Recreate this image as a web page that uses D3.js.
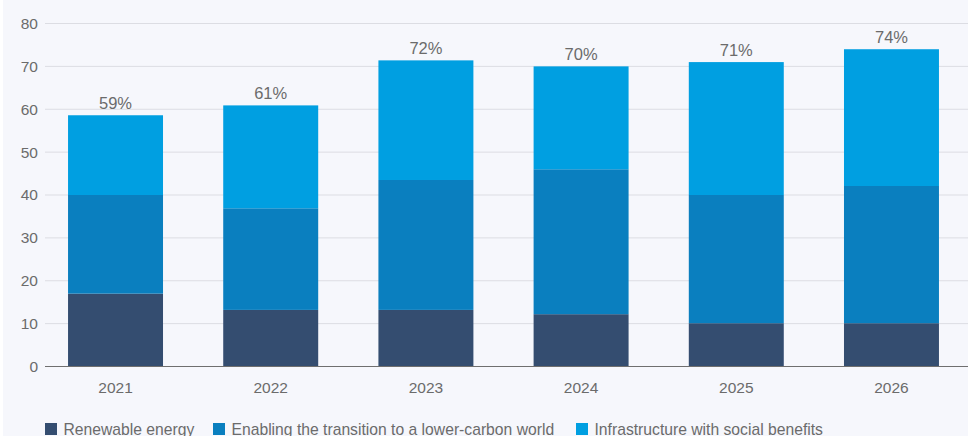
<!DOCTYPE html>
<html><head><meta charset="utf-8">
<script src="https://cdn.jsdelivr.net/npm/d3@7"></script>
<style>
html,body{margin:0;padding:0;background:#fff;}
svg{display:block;font-family:"Liberation Sans",Arial,Helvetica,sans-serif;}
</style></head>
<body><div id="chart"></div>
<script>
const years = ["2021","2022","2023","2024","2025","2026"];
const renewable = [17, 13.2, 13.2, 12.2, 10.1, 10.1];
const enabling = [23, 23.7, 30.3, 33.8, 29.9, 32];
const infrastructure = [18.6, 24, 27.9, 24, 31, 31.9];
const totalLabels = ["59%","61%","72%","70%","71%","74%"];
const seriesNames = ["Renewable energy","Enabling the transition to a lower-carbon world","Infrastructure with social benefits"];
const seriesColors = ["#344d70","#0a7fbf","#009fe1"];
const yTicks = [0,10,20,30,40,50,60,70,80];

const W = 968, H = 436;
const svg = d3.select("#chart").append("svg").attr("width", W).attr("height", H);
svg.append("rect").attr("x",3).attr("y",0).attr("width",W-3).attr("height",H).attr("fill","#f6f7fc");

const x = d3.scaleBand().domain(years).range([37, 970]).paddingInner(0.388).paddingOuter(0.2);
const y = d3.scaleLinear().domain([0,80]).range([366.5, 23.5]);

// grid
svg.append("g").selectAll("line").data(yTicks.slice(1)).join("line")
  .attr("x1",45).attr("x2",W).attr("y1",d=>y(d)).attr("y2",d=>y(d))
  .attr("stroke","#dcdde3").attr("stroke-width",1);

// y labels
svg.append("g").selectAll("text").data(yTicks).join("text")
  .attr("x",38).attr("y",d=>y(d)).attr("dy","0.35em").attr("text-anchor","end")
  .attr("font-size",15.5).attr("fill","#6b6b6b").text(d=>d);

const rows = years.map((yr,i)=>({year:yr, r:renewable[i], e:enabling[i], s:infrastructure[i]}));
const stack = d3.stack().keys(["r","e","s"])(rows);

svg.append("g").selectAll("g").data(stack).join("g")
  .attr("fill",(d,i)=>seriesColors[i])
  .selectAll("rect").data(d=>d).join("rect")
  .attr("x",d=>x(d.data.year)).attr("width",x.bandwidth())
  .attr("y",d=>y(d[1])).attr("height",d=>y(d[0])-y(d[1]));

// baseline
svg.append("line").attr("x1",45).attr("x2",W).attr("y1",y(0)).attr("y2",y(0))
  .attr("stroke","#6f6f6f").attr("stroke-width",1.2);

// total labels
svg.append("g").selectAll("text").data(stack[2]).join("text")
  .attr("x",d=>x(d.data.year)+x.bandwidth()/2).attr("y",d=>y(d[1])-6.5)
  .attr("text-anchor","middle").attr("font-size",16.5).attr("fill","#6b6b6b")
  .text((d,i)=>totalLabels[i]);

// x labels
svg.append("g").selectAll("text").data(years).join("text")
  .attr("x",d=>x(d)+x.bandwidth()/2).attr("y",393)
  .attr("text-anchor","middle").attr("font-size",15.5).attr("fill","#6b6b6b").text(d=>d);

// legend
const legX = [45, 213, 576];
const lg = svg.append("g").selectAll("g").data(seriesNames).join("g")
  .attr("transform",(d,i)=>`translate(${legX[i]},0)`);
lg.append("rect").attr("x",0).attr("y",423).attr("width",12).attr("height",12).attr("fill",(d,i)=>seriesColors[i]);
lg.append("text").attr("x",18.5).attr("y",434.5).attr("font-size",15.7).attr("fill","#6b6b6b").text(d=>d);
</script></body></html>
